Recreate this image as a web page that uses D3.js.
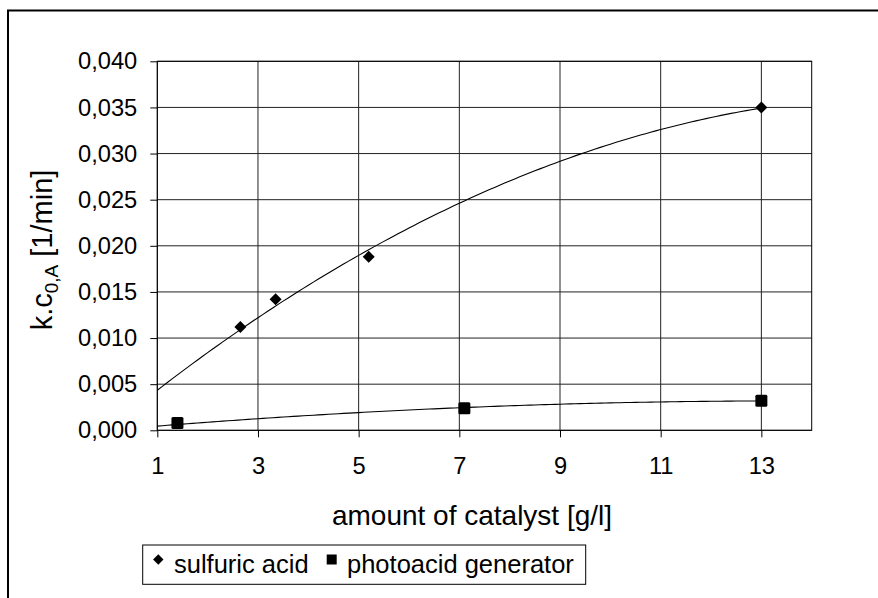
<!DOCTYPE html>
<html>
<head>
<meta charset="utf-8">
<script src="https://cdn.jsdelivr.net/npm/d3@7"></script>
<style>
  html, body { margin: 0; padding: 0; background: #fff; }
  text { font-family: "Liberation Sans", Arial, sans-serif; fill: #000; }
</style>
</head>
<body>
<div id="chart"></div>
<script>
const sulfuricX = [2.65, 3.35, 5.2, 13];
const sulfuricY = [0.0112, 0.0142, 0.0188, 0.035];
const photoX = [1.4, 7.1, 13];
const photoY = [0.0008, 0.0024, 0.0032];
const xTicks = [1, 3, 5, 7, 9, 11, 13];
const yTicks = [0, 0.005, 0.01, 0.015, 0.02, 0.025, 0.03, 0.035, 0.04];
const seriesNames = ["sulfuric acid", "photoacid generator"];

const width = 878;
const height = 598;
const plot = { left: 157.3, right: 811.7, top: 61.3, bottom: 430.3 };

const svg = d3.select("#chart")
  .append("svg")
  .attr("width", width)
  .attr("height", height);

/* outer chart frame, runs off the right and bottom edge */
svg.append("rect")
  .attr("x", 8)
  .attr("y", 10.5)
  .attr("width", 1000)
  .attr("height", 800)
  .attr("fill", "#fff")
  .attr("stroke", "#000")
  .attr("stroke-width", 2);

const x = d3.scaleLinear().domain([1, 14]).range([plot.left, plot.right]);
const y = d3.scaleLinear().domain([0, 0.04]).range([plot.bottom, plot.top]);

/* gridlines */
const grid = svg.append("g").attr("stroke", "#222").attr("stroke-width", 1);
grid.selectAll("line.h")
  .data(yTicks)
  .join("line")
  .attr("class", "h")
  .attr("x1", plot.left)
  .attr("x2", plot.right)
  .attr("y1", (d) => y(d))
  .attr("y2", (d) => y(d));
grid.selectAll("line.v")
  .data(xTicks)
  .join("line")
  .attr("class", "v")
  .attr("x1", (d) => x(d))
  .attr("x2", (d) => x(d))
  .attr("y1", plot.top)
  .attr("y2", plot.bottom);

svg.append("rect")
  .attr("x", plot.left)
  .attr("y", plot.top)
  .attr("width", plot.right - plot.left)
  .attr("height", plot.bottom - plot.top)
  .attr("fill", "none")
  .attr("stroke", "#000")
  .attr("stroke-width", 1);

/* axes */
const fmt = (d) => d3.format(".3f")(d).replace(".", ",");
svg.append("g")
  .attr("transform", `translate(${plot.left},0)`)
  .call(d3.axisLeft(y).tickValues(yTicks).tickSize(7).tickPadding(13).tickFormat(fmt))
  .call((g) => g.select(".domain").remove())
  .call((g) => g.selectAll("line").attr("stroke", "#000"))
  .call((g) => g.selectAll("text").attr("font-size", 23.7).attr("font-family", null).attr("fill", "#000"));

svg.append("g")
  .attr("transform", `translate(0,${plot.bottom})`)
  .call(d3.axisBottom(x).tickValues(xTicks).tickSize(7).tickPadding(20))
  .call((g) => g.select(".domain").remove())
  .call((g) => g.selectAll("line").attr("stroke", "#000"))
  .call((g) => g.selectAll("text").attr("font-size", 23.7).attr("font-family", null).attr("fill", "#000"));

/* quadratic trendline through the origin, least squares */
function fitQuadZero(xs, ys) {
  const s2 = d3.sum(xs, (v) => v * v);
  const s3 = d3.sum(xs, (v) => v ** 3);
  const s4 = d3.sum(xs, (v) => v ** 4);
  const sxy = d3.sum(xs, (v, i) => v * ys[i]);
  const sx2y = d3.sum(xs, (v, i) => v * v * ys[i]);
  const det = s2 * s4 - s3 * s3;
  const b = (sxy * s4 - s3 * sx2y) / det;
  const c = (s2 * sx2y - s3 * sxy) / det;
  return (v) => b * v + c * v * v;
}

const line = d3.line().x((d) => x(d[0])).y((d) => y(d[1])).curve(d3.curveLinear);
const samples = d3.range(1, 13.0001, 0.1);
[[sulfuricX, sulfuricY], [photoX, photoY]].forEach(([xs, ys]) => {
  const f = fitQuadZero(xs, ys);
  svg.append("path")
    .attr("d", line(samples.map((v) => [v, f(v)])))
    .attr("fill", "none")
    .attr("stroke", "#000")
    .attr("stroke-width", 1.1);
});

/* markers */
const diamond = (s) => `M0,${-s}L${s},0L0,${s}L${-s},0Z`;
svg.append("g")
  .selectAll("path")
  .data(sulfuricX.map((v, i) => [v, sulfuricY[i]]))
  .join("path")
  .attr("transform", (d) => `translate(${x(d[0])},${y(d[1])})`)
  .attr("d", diamond(6))
  .attr("fill", "#000");

svg.append("g")
  .selectAll("rect")
  .data(photoX.map((v, i) => [v, photoY[i]]))
  .join("rect")
  .attr("x", (d) => x(d[0]) - 6)
  .attr("y", (d) => y(d[1]) - 6)
  .attr("width", 12)
  .attr("height", 12)
  .attr("rx", 1.5)
  .attr("fill", "#000");

/* axis titles */
svg.append("text")
  .attr("x", 472)
  .attr("y", 525)
  .attr("text-anchor", "middle")
  .attr("font-size", 28)
  .text("amount of catalyst [g/l]");

const yTitle = svg.append("text")
  .attr("transform", "translate(52,250) rotate(-90)")
  .attr("text-anchor", "middle")
  .attr("font-size", 29);
yTitle.append("tspan").text("k.c");
yTitle.append("tspan").attr("font-size", 19).attr("dy", 6).text("0,A");
yTitle.append("tspan").attr("dy", -6).text(" [1/min]");

/* legend */
const legend = svg.append("g");
legend.append("rect")
  .attr("x", 142.7)
  .attr("y", 545)
  .attr("width", 443)
  .attr("height", 39.3)
  .attr("fill", "#fff")
  .attr("stroke", "#000")
  .attr("stroke-width", 1);
legend.append("path")
  .attr("transform", "translate(158.3,559.5)")
  .attr("d", diamond(5.2))
  .attr("fill", "#000");
legend.append("rect")
  .attr("x", 326.7)
  .attr("y", 554.5)
  .attr("width", 10)
  .attr("height", 10)
  .attr("fill", "#000");
legend.selectAll("text.lbl")
  .data(seriesNames)
  .join("text")
  .attr("class", "lbl")
  .attr("x", (d, i) => (i === 0 ? 174 : 347))
  .attr("y", 572.7)
  .attr("font-size", 25.5)
  .text((d) => d);
</script>
</body>
</html>
